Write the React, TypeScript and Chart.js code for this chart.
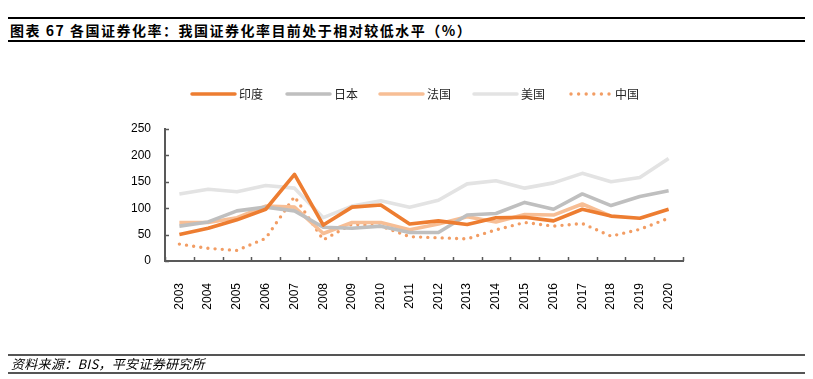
import React, { useEffect, useRef } from "react";
import { Chart, registerables } from "chart.js";

Chart.register(...registerables);

const years = ["2003","2004","2005","2006","2007","2008","2009","2010","2011","2012","2013","2014","2015","2016","2017","2018","2019","2020"];
const india = [50, 62, 78, 98, 164, 68, 102, 106, 70, 76, 69, 82, 83, 76, 98, 85, 81, 98];
const japan = [66, 74, 95, 102, 95, 64, 62, 66, 54, 54, 87, 90, 111, 98, 127, 105, 122, 133];
const france = [73, 73, 82, 104, 102, 52, 73, 73, 59, 70, 84, 74, 88, 87, 108, 85, null, null];
const usa = [127, 136, 131, 143, 138, 82, 104, 114, 102, 115, 146, 152, 138, 148, 166, 150, 158, 194];
const china = [32, 24, 20, 43, 122, 40, 70, 66, 46, 44, 42, 59, 73, 66, 71, 47, 60, 81];
const yTicks = [0, 50, 100, 150, 200, 250];

const seriesNames = ["印度", "日本", "法国", "美国", "中国"];
const seriesColors = ["#ED7D31", "#BFBFBF", "#F7BE95", "#E3E3E3", "#F29D64"];

const FONT = "'Liberation Sans', Arial, 'Noto Sans CJK SC', sans-serif";

const axisTicksPlugin = {
  id: "axisTicks",
  afterDraw(chart: any) {
    const ctx = chart.ctx;
    const x = chart.scales.x;
    const y = chart.scales.y;
    const area = chart.chartArea;
    ctx.save();
    ctx.strokeStyle = "#595959";
    ctx.lineWidth = 1.5;
    const n = x.ticks.length;
    for (let i = 0; i <= n; i++) {
      const px = Math.round(area.left + (i * (area.right - area.left)) / n) + 0.5;
      ctx.beginPath();
      ctx.moveTo(px, area.bottom);
      ctx.lineTo(px, area.bottom - 4);
      ctx.stroke();
    }
    for (const v of yTicks) {
      const py = Math.round(y.getPixelForValue(v)) + 0.5;
      ctx.beginPath();
      ctx.moveTo(area.left, py);
      ctx.lineTo(area.left + 4, py);
      ctx.stroke();
    }
    ctx.restore();
  },
};

const legendPlugin = {
  id: "customLegend",
  afterDraw(chart: any) {
    const ctx = chart.ctx;
    const starts = [192, 287, 380, 474, 569];
    const ly = 94;
    ctx.save();
    ctx.font = "12px 'Noto Sans CJK SC', sans-serif";
    ctx.textBaseline = "middle";
    seriesNames.forEach((name, i) => {
      const sx = starts[i];
      ctx.strokeStyle = seriesColors[i];
      ctx.fillStyle = seriesColors[i];
      if (i === 4) {
        for (let k = 0; k < 6; k++) {
          ctx.beginPath();
          ctx.arc(sx + 2 + k * 7.6, ly, 1.7, 0, Math.PI * 2);
          ctx.fill();
        }
      } else {
        ctx.lineWidth = 3.5;
        ctx.lineCap = "round";
        ctx.beginPath();
        ctx.moveTo(sx, ly);
        ctx.lineTo(sx + 43, ly);
        ctx.stroke();
      }
      ctx.fillStyle = "#262626";
      ctx.fillText(name, i === 4 ? sx + 46 : sx + 47, ly);
    });
    ctx.restore();
  },
};

function ChartCanvas() {
  const ref = useRef<HTMLCanvasElement | null>(null);
  useEffect(() => {
    if (!ref.current) return;
    const data = [india, japan, france, usa, china];
    const chart = new Chart(ref.current, {
      type: "line",
      data: {
        labels: years,
        datasets: data.map((d, i) => ({
          label: seriesNames[i],
          data: d,
          borderColor: seriesColors[i],
          backgroundColor: seriesColors[i],
          borderWidth: i === 4 ? 3.4 : 3.6,
          borderDash: i === 4 ? [0, 7.2] : [],
          borderCapStyle: i === 4 ? "round" : "butt",
          borderJoinStyle: "round",
          pointRadius: 0,
          tension: 0,
          spanGaps: false,
        })) as any,
      },
      options: {
        responsive: false,
        animation: false,
        devicePixelRatio: 1,
        layout: { padding: { top: 129, right: 130, left: 0, bottom: 0 } },
        plugins: { legend: { display: false }, title: { display: false }, tooltip: { enabled: false } },
        scales: {
          x: {
            type: "category",
            offset: true,
            grid: { display: true, drawOnChartArea: false, drawTicks: false, offset: true, color: "rgba(0,0,0,0)" },
            border: { display: true, color: "#595959", width: 2 },
            ticks: {
              autoSkip: false,
              maxRotation: 90,
              minRotation: 90,
              padding: 22,
              color: "#000",
              font: { family: FONT, size: 12 },
            },
            afterFit(scale: any) {
              scale.height = 118;
            },
          },
          y: {
            min: 0,
            max: 250,
            grid: { display: true, drawOnChartArea: false, drawTicks: false, color: "rgba(0,0,0,0)" },
            border: { display: true, color: "#595959", width: 2 },
            ticks: {
              stepSize: 50,
              padding: 14,
              color: "#000",
              font: { family: FONT, size: 12 },
            },
            afterFit(scale: any) {
              scale.width = 165;
            },
          },
        },
      },
      plugins: [axisTicksPlugin, legendPlugin],
    });
    return () => chart.destroy();
  }, []);
  return <canvas ref={ref} width={813} height={379} style={{ position: "absolute", left: 0, top: 0, width: 813, height: 379 }} />;
}

export default function App() {
  const lineStyle = (top: number, color: string, h: number): React.CSSProperties => ({
    position: "absolute",
    left: 8,
    top,
    width: 797,
    height: h,
    background: color,
  });
  return (
    <div style={{ position: "absolute", left: 0, top: 0, width: 813, height: 379, background: "#fff", overflow: "hidden" }}>
      <div style={lineStyle(17, "#000", 2)} />
      <div
        style={{
          position: "absolute",
          left: 10,
          top: 20,
          fontFamily: "'Noto Sans CJK SC', sans-serif",
          fontWeight: 700,
          fontSize: 14,
          letterSpacing: 1.5,
          lineHeight: "20px",
          color: "#000",
          whiteSpace: "nowrap",
        }}
      >
        图表 67 各国证券化率：我国证券化率目前处于相对较低水平（%）
      </div>
      <div style={lineStyle(40, "#000", 2)} />
      <ChartCanvas />
      <div style={lineStyle(354, "#555", 2)} />
      <div
        style={{
          position: "absolute",
          left: 11,
          top: 356,
          fontFamily: "'Noto Sans CJK SC', sans-serif",
          fontStyle: "italic",
          fontSize: 13,
          letterSpacing: 0.3,
          lineHeight: "16px",
          color: "#000",
          whiteSpace: "nowrap",
        }}
      >
        资料来源：BIS，平安证券研究所
      </div>
      <div style={lineStyle(372, "#555", 2)} />
    </div>
  );
}
